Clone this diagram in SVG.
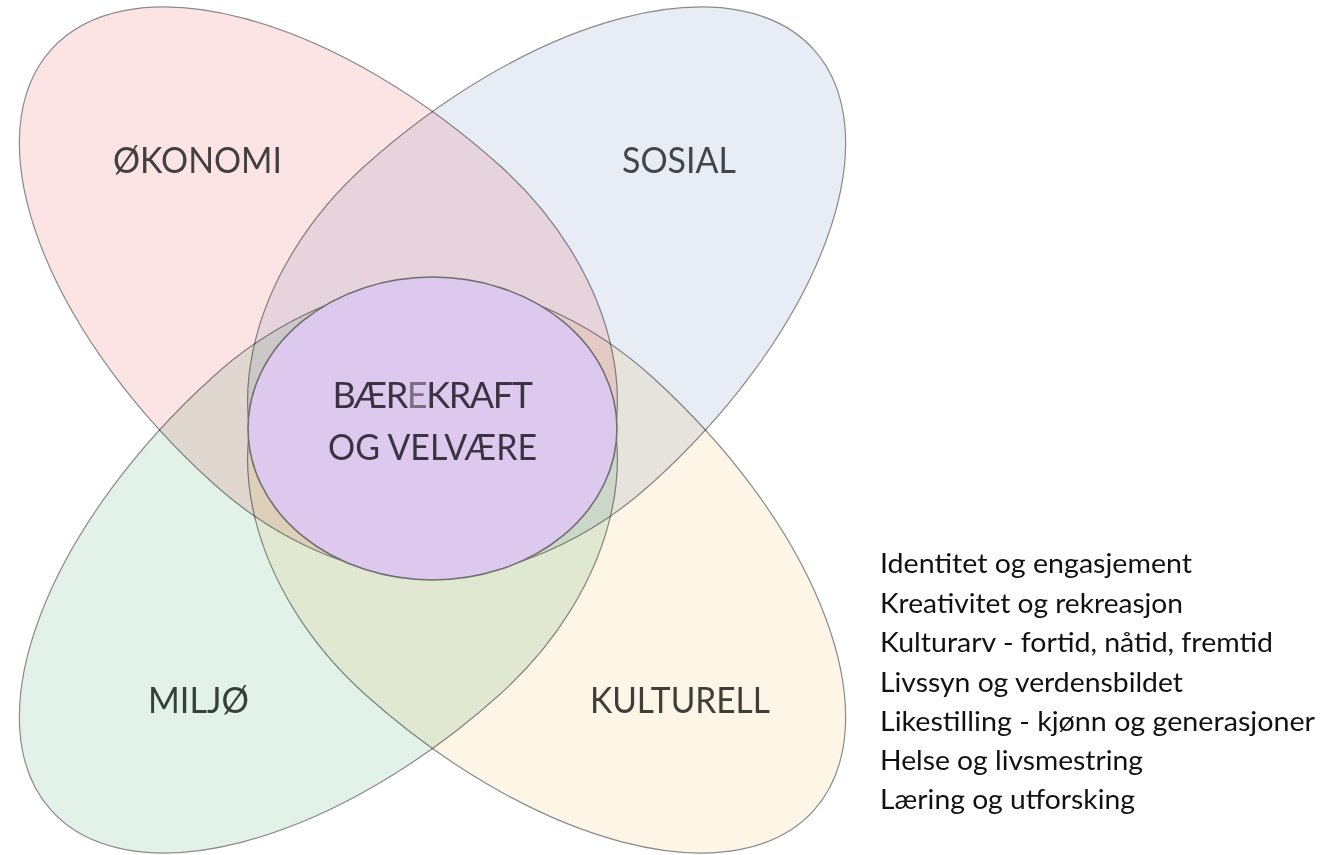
<svg xmlns="http://www.w3.org/2000/svg" width="1325" height="855" viewBox="0 0 1325 855">
<style>
.egg{stroke:#8a8a8a;stroke-width:1.2;mix-blend-mode:multiply}
.lbl{font-family:Lato,"Open Sans","Liberation Sans",sans-serif;font-size:36px}
.list{font-family:Lato,"Open Sans","Liberation Sans",sans-serif;font-size:26px;fill:#111}
</style>
<rect x="0" y="0" width="1325" height="855" fill="#ffffff"/>
<g id="okonomi">
<path class="egg" fill="#fde4e4" d="M214.2,484.3 A412,214 42 0 1 51.2,49.6 A412,214 42 0 1 500.6,166.3 A292,214 42 0 1 574.4,520.7 A292,214 42 0 1 214.2,484.3 Z"/>
<text class="lbl" x="113" y="173" textLength="169" lengthAdjust="spacingAndGlyphs" fill="#404040">ØKONOMI</text>
</g>
<g id="sosial">
<path class="egg" fill="#e8ecf5" d="M650.8,484.3 A412,214 -42 0 0 813.8,49.6 A412,214 -42 0 0 364.4,166.3 A292,214 -42 0 0 290.6,520.7 A292,214 -42 0 0 650.8,484.3 Z"/>
<text class="lbl" x="622" y="173" textLength="114" lengthAdjust="spacingAndGlyphs" fill="#40464e">SOSIAL</text>
</g>
<g id="miljo">
<path class="egg" fill="#e2f2e9" d="M214.2,375.7 A412,214 -42 0 0 51.2,810.4 A412,214 -42 0 0 500.6,693.7 A292,214 -42 0 0 574.4,339.3 A292,214 -42 0 0 214.2,375.7 Z"/>
<text class="lbl" x="148" y="713" textLength="101" lengthAdjust="spacingAndGlyphs" fill="#35403a">MILJØ</text>
</g>
<g id="kulturell">
<path class="egg" fill="#fdf5e5" d="M650.8,375.7 A412,214 42 0 1 813.8,810.4 A412,214 42 0 1 364.4,693.7 A292,214 42 0 1 290.6,339.3 A292,214 42 0 1 650.8,375.7 Z"/>
<text class="lbl" x="590" y="713" textLength="180" lengthAdjust="spacingAndGlyphs" fill="#3f3f3a">KULTURELL</text>
</g>
<g id="baerekraft">
<ellipse cx="432.5" cy="428.5" rx="184.5" ry="151.5" fill="#ddc9ee" stroke="#6f6f6f" stroke-width="1.6"/>
<text class="lbl" x="432" y="408" text-anchor="middle" letter-spacing="-1.4" fill="#3b3342">BÆR<tspan fill="#7d6e86">E</tspan>KRAFT</text>
<text class="lbl" x="328" y="460" textLength="209" lengthAdjust="spacingAndGlyphs" fill="#3b3342">OG VELVÆRE</text>
</g>
<g id="list">
<text class="list" x="880" y="573" textLength="312" lengthAdjust="spacingAndGlyphs">Identitet og engasjement</text>
<text class="list" x="880" y="612.5" textLength="303" lengthAdjust="spacingAndGlyphs">Kreativitet og rekreasjon</text>
<text class="list" x="880" y="651.5" textLength="393" lengthAdjust="spacingAndGlyphs">Kulturarv - fortid, nåtid, fremtid</text>
<text class="list" x="880" y="691.5" textLength="303" lengthAdjust="spacingAndGlyphs">Livssyn og verdensbildet</text>
<text class="list" x="880" y="731" textLength="435" lengthAdjust="spacingAndGlyphs">Likestilling  - kjønn og generasjoner</text>
<text class="list" x="880" y="770" textLength="263" lengthAdjust="spacingAndGlyphs">Helse og livsmestring</text>
<text class="list" x="880" y="809" textLength="255" lengthAdjust="spacingAndGlyphs">Læring og utforsking</text>
</g>
</svg>
